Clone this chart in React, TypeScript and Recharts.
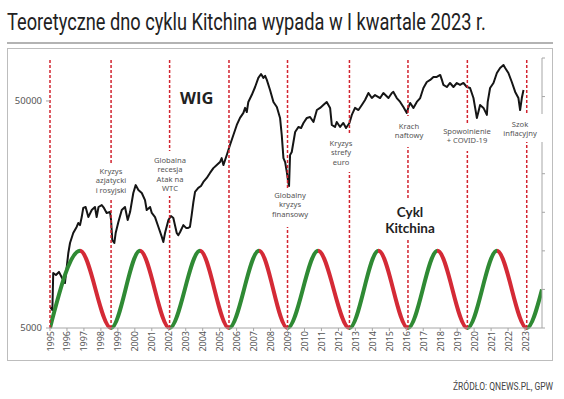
import React from 'react';
import { ComposedChart, Line, XAxis, YAxis, ReferenceLine } from 'recharts';

// WIG (log scale)
const wigYears = [
  1995.0, 1995.14, 1995.19, 1995.35, 1995.53, 1995.71, 1995.88, 1996.08, 1996.18, 1996.37,
  1996.57, 1996.67, 1996.77, 1996.87, 1996.96, 1997.1, 1997.26, 1997.46, 1997.65, 1997.75,
  1997.86, 1998.05, 1998.18, 1998.34, 1998.54, 1998.6, 1998.67, 1998.79, 1998.87, 1999.03,
  1999.23, 1999.42, 1999.58, 1999.72, 1999.91, 2000.05, 2000.21, 2000.41, 2000.6, 2000.7,
  2000.9, 2001.0, 2001.19, 2001.39, 2001.59, 2001.68, 2001.78, 2001.98, 2002.13, 2002.27,
  2002.47, 2002.56, 2002.67, 2002.86, 2003.02, 2003.15, 2003.25, 2003.35, 2003.45, 2003.55,
  2003.74, 2003.9, 2004.04, 2004.24, 2004.43, 2004.63, 2004.83, 2005.02, 2005.12, 2005.22,
  2005.42, 2005.61, 2005.81, 2006.01, 2006.2, 2006.4, 2006.5, 2006.6, 2006.69, 2006.89,
  2007.09, 2007.28, 2007.44, 2007.58, 2007.68, 2007.78, 2007.97, 2008.17, 2008.37, 2008.56,
  2008.66, 2008.76, 2008.86, 2008.96, 2009.05, 2009.09, 2009.15, 2009.25, 2009.45, 2009.64,
  2009.8, 2009.94, 2010.14, 2010.33, 2010.53, 2010.73, 2010.92, 2011.11, 2011.31, 2011.51,
  2011.61, 2011.8, 2011.9, 2012.1, 2012.29, 2012.45, 2012.65, 2012.79, 2012.98, 2013.18,
  2013.38, 2013.57, 2013.77, 2013.97, 2014.16, 2014.46, 2014.65, 2014.95, 2015.15, 2015.24,
  2015.44, 2015.64, 2015.83, 2016.03, 2016.13, 2016.23, 2016.42, 2016.62, 2016.82, 2017.01,
  2017.21, 2017.41, 2017.6, 2017.8, 2018.0, 2018.1, 2018.19, 2018.39, 2018.58, 2018.78,
  2018.98, 2019.17, 2019.37, 2019.57, 2019.76, 2019.96, 2020.06, 2020.16, 2020.25, 2020.35,
  2020.55, 2020.75, 2020.8, 2020.94, 2021.14, 2021.34, 2021.53, 2021.73, 2021.83, 2022.02,
  2022.22, 2022.42, 2022.61, 2022.71, 2022.81, 2022.91,
];
const wigValues = [
  6190, 6000, 8740, 8560, 8830, 8300, 7890, 10700, 11840, 13100,
  13930, 14500, 14200, 15400, 16900, 17060, 15400, 16550, 17060, 15400,
  17060, 17400, 16900, 16060, 16200, 14950, 12200, 11840, 13100, 14650,
  16550, 17060, 14950, 16200, 19660, 21300, 20270, 19660, 18300, 16550,
  17060, 16060, 15400, 13930, 12600, 11960, 13100, 14950, 15570, 15260,
  13100, 12800, 13240, 14200, 13800, 13800, 13930, 15700, 17900, 19900,
  20700, 21100, 22000, 22900, 24100, 25300, 26100, 26900, 28000, 26100,
  28900, 32000, 35400, 39200, 42100, 44300, 46600, 44700, 49500, 53100,
  57600, 63200, 65700, 63200, 64500, 61900, 55900, 49500, 47000, 42100,
  35400, 28000, 26900, 24300, 21800, 21100, 28900, 29800, 36500, 38400,
  38000, 40000, 42100, 42500, 40400, 45600, 46600, 48000, 49500, 46600,
  39200, 38400, 40400, 38400, 40000, 38000, 40000, 43400, 46600, 45600,
  48000, 50500, 54200, 51500, 53100, 51500, 54200, 51500, 54200, 54800,
  51500, 49500, 47000, 44300, 47000, 49000, 46600, 49500, 51500, 57000,
  60600, 61900, 63800, 63800, 65100, 61900, 58800, 57600, 60000, 57600,
  60000, 58800, 60000, 57600, 57000, 51500, 46600, 42100, 44700, 48000,
  46600, 43400, 49500, 57000, 60000, 66400, 69900, 72000, 69900, 66400,
  60600, 54800, 51500, 45600, 51500, 55900,
];

// Kitchin cycle: troughs (0) and peaks (2), last point mid-rise
const cycleYears = [
  1995.0, 1996.77, 1998.6, 2000.3, 2002.05, 2003.84, 2005.55, 2007.32, 2009.0,
  2010.8, 2012.65, 2014.36, 2016.1, 2017.84, 2019.6, 2021.34, 2023.1, 2024.0,
];
const cycleValues = [0, 2, 0, 2, 0, 2, 0, 2, 0, 2, 0, 2, 0, 2, 0, 2, 0, 1];

// crisis markers = cycle troughs
const crisisYears = [1995.0, 1998.6, 2002.05, 2005.55, 2009.0, 2012.65, 2016.1, 2019.6, 2023.1];

const yearTicks = [
  1995, 1996, 1997, 1998, 1999, 2000, 2001, 2002, 2003, 2004, 2005, 2006, 2007, 2008, 2009,
  2010, 2011, 2012, 2013, 2014, 2015, 2016, 2017, 2018, 2019, 2020, 2021, 2022, 2023,
];
const wigTicks = [5000, 50000];
const cycleTicks = [0, 1, 2, 3, 4, 5, 6, 7];

const wigData = wigYears.map((year, i) => ({ year, wig: wigValues[i] }));
const cycleData = cycleYears.map((year, i) => ({ year, cycle: cycleValues[i] }));

const GREEN = '#2f8a34';
const RED = '#d42a36';
const DASH = '#d2232f';

const xMin = cycleYears[0];
const xMax = cycleYears[cycleYears.length - 1];
const cycleStops = cycleYears.slice(0, -1).flatMap((y, i) => {
  const color = cycleValues[i + 1] > cycleValues[i] ? GREEN : RED;
  return [
    { offset: (y - xMin) / (xMax - xMin), color },
    { offset: (cycleYears[i + 1] - xMin) / (xMax - xMin), color },
  ];
});

// text boxes (white background cuts the dashed lines like in the original)
const notes = [
  { lines: ['Kryzys', 'azjatycki', 'i rosyjski'], cx: 111, y0: 174, box: [92, 163, 38, 36] },
  { lines: ['Globalna', 'recesja', 'Atak na', 'WTC'], cx: 170, y0: 163, box: [152, 151, 37, 45] },
  { lines: ['Globalny', 'kryzys', 'finansowy'], cx: 290, y0: 198, box: [270, 190, 40, 37] },
  { lines: ['Kryzys', 'strefy', 'euro'], cx: 341, y0: 146, box: [325, 135, 32, 37] },
  { lines: ['Krach', 'naftowy'], cx: 409, y0: 129, box: [391, 116, 36, 31] },
  { lines: ['Spowolnienie', '+ COVID-19'], cx: 467, y0: 134, box: [441, 123, 53, 28] },
  { lines: ['Szok', 'inflacyjny'], cx: 520, y0: 126.5, box: [499, 114, 48, 28] },
];

const noteFont = '"Noto Sans", "Open Sans", sans-serif';

function YearTick({ x, y, payload }: any) {
  return (
    <text
      x={x}
      y={y}
      transform={`rotate(-90 ${x} ${y})`}
      textAnchor="end"
      dominantBaseline="central"
      fontSize={9}
      fontFamily={noteFont}
      fill="#555"
    >
      {payload.value}
    </text>
  );
}

export default function App() {
  return (
    <div style={{ position: 'absolute', left: 0, top: 0, width: 564, height: 399, background: '#fff', overflow: 'hidden' }}>
      <svg width={564} height={48} style={{ position: 'absolute', left: 0, top: 0 }}>
        <defs>
          <linearGradient id="cycleStroke" x1="0" x2="1" y1="0" y2="0">
            {cycleStops.map((s, i) => (
              <stop key={i} offset={s.offset} stopColor={s.color} />
            ))}
          </linearGradient>
        </defs>
        <g transform="translate(7 30) scale(0.72 1)">
          <text x={0} y={0} fontSize={24} fontFamily="Roboto, sans-serif" fill="#222" textLength={665} lengthAdjust="spacingAndGlyphs">
            Teoretyczne dno cyklu Kitchina wypada w I kwartale 2023 r.
          </text>
        </g>
        <line x1={7} x2={553} y1={43} y2={43} stroke="#9a9a9a" strokeWidth={1.5} />
      </svg>
      <div style={{ position: 'absolute', left: 7, top: 48, width: 546, height: 313, border: '1px solid #bdbdbd', boxSizing: 'border-box' }} />
      <div style={{ position: 'absolute', left: 0, top: 0 }}>
        <ComposedChart width={564} height={399} margin={{ top: 58, right: 0, bottom: 31, left: 8 }}>
          <XAxis
            type="number"
            dataKey="year"
            domain={[1995, 2024]}
            ticks={yearTicks}
            interval={0}
            allowDataOverflow
            height={40}
            stroke="#a6a6a6"
            tickSize={3}
            tickMargin={0}
            tick={<YearTick />}
          />
          <YAxis
            yAxisId="wig"
            scale="log"
            domain={[5000, 77300]}
            ticks={wigTicks}
            allowDataOverflow
            width={42}
            axisLine={false}
            tickSize={4}
            tickMargin={4}
            stroke="#a6a6a6"
            tick={{ fontSize: 9.5, fill: '#555', fontFamily: noteFont }}
          />
          <YAxis
            yAxisId="cycle"
            orientation="right"
            domain={[0, 7]}
            ticks={cycleTicks}
            width={22}
            stroke="#a6a6a6"
            tickSize={3}
            tickFormatter={() => ''}
          />
          <Line
            yAxisId="wig"
            data={wigData}
            dataKey="wig"
            type="linear"
            stroke="#151515"
            strokeWidth={2}
            strokeLinejoin="round"
            dot={false}
            activeDot={false}
            isAnimationActive={false}
          />
          <Line
            yAxisId="cycle"
            data={cycleData}
            dataKey="cycle"
            type="monotone"
            stroke="url(#cycleStroke)"
            strokeWidth={4}
            dot={false}
            activeDot={false}
            isAnimationActive={false}
          />
          {crisisYears.map((y) => (
            <ReferenceLine key={y} yAxisId="wig" x={y} stroke={DASH} strokeDasharray="3 2" strokeWidth={1.5} />
          ))}
        </ComposedChart>
      </div>
      <svg width={564} height={399} style={{ position: 'absolute', left: 0, top: 0 }}>
        {notes.map((n, i) => (
          <g key={i}>
            <rect x={n.box[0]} y={n.box[1]} width={n.box[2]} height={n.box[3]} fill="#fff" />
            {n.lines.map((l, j) => (
              <text key={j} x={n.cx} y={n.y0 + j * 9.3} textAnchor="middle" fontSize={7.6} fontFamily={noteFont} fill="#555">
                {l}
              </text>
            ))}
          </g>
        ))}
        <rect x={382} y={199} width={58} height={39} fill="#fff" />
        <text x={410} y={216.5} textAnchor="middle" fontSize={13.5} fontWeight={700} fontFamily="Lato, sans-serif" fill="#222">Cykl</text>
        <text x={410} y={233} textAnchor="middle" fontSize={13.5} fontWeight={700} fontFamily="Lato, sans-serif" fill="#222">Kitchina</text>
        <text x={180} y={104} fontSize={16.5} fontWeight={700} fontFamily='"Open Sans", sans-serif' fill="#222">WIG</text>
        <g transform="translate(453 390) scale(0.77 1)">
          <text x={0} y={0} fontSize={11} fontFamily="Roboto, sans-serif" fill="#444" textLength={130} lengthAdjust="spacingAndGlyphs">
            ŹRÓDŁO: QNEWS.PL, GPW
          </text>
        </g>
      </svg>
    </div>
  );
}
